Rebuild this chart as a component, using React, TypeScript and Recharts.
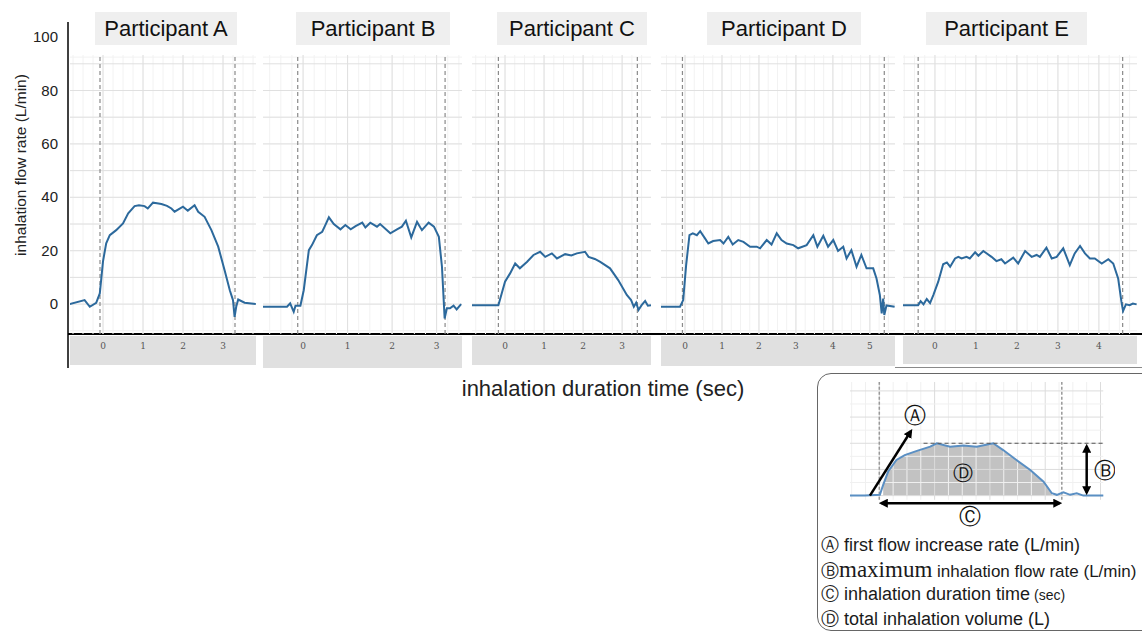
import {
  LineChart,
  ComposedChart,
  Line,
  Area,
  XAxis,
  YAxis,
  CartesianGrid,
  ReferenceLine,
  ReferenceDot,
  Label,
} from 'recharts';

const FONT = '"Liberation Sans", Arial, sans-serif';
const BLUE = '#2c699c';

// y axis (shared, L/min)
const flowTicks = [0, 20, 40, 60, 80, 100];

// Participant A
const timeA = [-0.83, -0.46, -0.33, -0.17, -0.08, 0, 0.08, 0.17, 0.33, 0.5, 0.63, 0.79, 0.9, 1.04, 1.12, 1.25, 1.35, 1.46, 1.6, 1.71, 1.79, 2.0, 2.12, 2.29, 2.38, 2.54, 2.71, 2.88, 3.04, 3.17, 3.25, 3.29, 3.33, 3.38, 3.54, 3.82];
const flowA = [0, 1.5, -1, 0.5, 4, 16, 22.8, 25.8, 27.7, 30.2, 34, 36.7, 37, 36.7, 35.8, 38, 37.8, 37.5, 36.8, 35.8, 34.6, 36.5, 35, 37, 34.6, 32.7, 27.7, 21.5, 12.7, 5.2, 1.5, -4.8, -1, 1.7, 0.5, 0];

// Participant B
const timeB = [-0.9, -0.36, -0.29, -0.21, -0.17, -0.06, 0.015, 0.13, 0.2, 0.31, 0.43, 0.5, 0.58, 0.69, 0.84, 0.95, 1.07, 1.18, 1.33, 1.4, 1.51, 1.66, 1.73, 1.96, 2.11, 2.22, 2.31, 2.43, 2.56, 2.67, 2.82, 2.94, 3.05, 3.12, 3.18, 3.23, 3.3, 3.38, 3.45, 3.55];
const flowB = [-1, -1, 0.3, -2.9, -0.6, -0.6, 5.2, 20.2, 22.1, 25.8, 27.1, 29.6, 32.5, 30, 28, 29.6, 28, 29.2, 30.5, 28.7, 30.5, 29, 30, 26.5, 28, 29, 31.2, 25, 30.8, 27.7, 30.5, 29, 25.2, 14, -5.4, -1.6, -1.6, -0.6, -2, 0];

// Participant C
const timeC = [-0.85, -0.17, -0.085, 0, 0.13, 0.26, 0.38, 0.56, 0.73, 0.9, 1.03, 1.2, 1.33, 1.54, 1.7, 1.84, 2.05, 2.14, 2.3, 2.44, 2.69, 2.9, 3.12, 3.23, 3.3, 3.36, 3.42, 3.5, 3.59, 3.66, 3.74];
const flowC = [-0.4, -0.4, 4, 8.4, 11.5, 15.2, 13.4, 15.8, 18.4, 19.6, 17.7, 19, 17.1, 18.7, 18.2, 19, 19.6, 17.7, 16.9, 15.8, 13.4, 9, 3.4, 1.5, -1, 0.5, -2.2, -0.4, 1.2, -0.6, -0.4];

// Participant D
const timeD = [-0.65, -0.135, -0.05, 0.03, 0.12, 0.21, 0.32, 0.41, 0.54, 0.63, 0.76, 0.95, 1.04, 1.17, 1.29, 1.44, 1.58, 1.76, 1.94, 2.03, 2.21, 2.34, 2.48, 2.61, 2.75, 2.93, 3.06, 3.29, 3.47, 3.58, 3.74, 3.87, 4.01, 4.14, 4.28, 4.37, 4.5, 4.64, 4.77, 4.91, 5.09, 5.18, 5.27, 5.32, 5.36, 5.39, 5.45, 5.67];
const flowD = [-1, -1, 1.5, 14.6, 25.8, 26.5, 25.8, 27.3, 24.6, 22.7, 23.6, 24, 22.7, 25.2, 22.3, 24, 23.3, 21.5, 21.5, 20.9, 24, 22.3, 26.5, 24, 22.7, 22.1, 20.9, 22.1, 25.8, 21.5, 25.6, 21.5, 24, 19.9, 21.5, 17.1, 20.2, 14, 18.4, 13.4, 13.4, 9.6, 3.4, -3.5, 2.1, -4.1, -0.5, -1];

// Participant E
const timeE = [-0.78, -0.41, -0.35, -0.28, -0.2, -0.12, -0.04, 0.08, 0.2, 0.29, 0.37, 0.49, 0.57, 0.65, 0.77, 0.85, 0.98, 1.06, 1.18, 1.38, 1.5, 1.62, 1.71, 1.91, 2.03, 2.2, 2.36, 2.48, 2.56, 2.72, 2.85, 2.97, 3.13, 3.29, 3.41, 3.54, 3.66, 3.78, 3.9, 4.07, 4.23, 4.35, 4.47, 4.55, 4.59, 4.66, 4.75, 4.83, 4.92];
const flowE = [-0.4, -0.4, 1.1, -0.1, 1.9, 0.4, 3.4, 8.4, 14.9, 15.6, 14, 17.1, 17.7, 17.1, 17.7, 17.1, 19.4, 18.1, 19.9, 17.7, 16.1, 16.8, 15.2, 17.4, 15.2, 19.9, 17.7, 18.4, 17.7, 21.1, 17.1, 17.7, 20.9, 14.6, 19, 21.8, 19, 17.1, 17.1, 15.2, 16.8, 15.2, 9.6, 0.9, -2.6, -0.1, -0.4, 0.2, -0.1];

// legend sketch curve
const sketchTime = [-0.53, -0.26, 0.01, 0.07, 0.16, 0.31, 0.46, 0.68, 0.92, 1.04, 1.28, 1.52, 1.76, 2.06, 2.24, 2.48, 2.73, 2.97, 3.12, 3.21, 3.33, 3.45, 3.57, 3.69, 4.05];
const sketchFlow = [0, 0, 0.3, 4.1, 9.2, 13.6, 15.5, 17.1, 18.7, 20, 18.7, 19.1, 18.7, 20, 17.4, 13.6, 9.8, 5.3, 0.9, 0.3, 1.3, 0.3, 0.9, 0, 0];
const sketchFillFrom = 3;
const sketchFillTo = 18;

const legendItems = [
  { mark: 'Ⓐ', text: 'first flow increase rate (L/min)' },
  { mark: 'Ⓑ', text: 'inhalation flow rate (L/min)', serif: 'maximum' },
  { mark: 'Ⓒ', text: 'inhalation duration time', small: '(sec)' },
  { mark: 'Ⓓ', text: 'total inhalation volume (L)' },
];

const PANEL_TOP = 55;
const PANEL_PLOT_H = 279;
const PANEL_Y_DOMAIN: [number, number] = [-11.2, 93.3];

const panels = [
  { name: 'Participant A', time: timeA, flow: flowA, left: 70, right: 256, tMin: -0.825, tMax: 3.825, ticks: [0, 1, 2, 3], dash: [-0.075, 3.3], title: [95, 237], boxBottom: 365 },
  { name: 'Participant B', time: timeB, flow: flowB, left: 263, right: 462, tMin: -0.9, tMax: 3.57, ticks: [0, 1, 2, 3], dash: [-0.12, 3.19], title: [296, 450], boxBottom: 368 },
  { name: 'Participant C', time: timeC, flow: flowC, left: 472, right: 651, tMin: -0.846, tMax: 3.74, ticks: [0, 1, 2, 3], dash: [-0.17, 3.39], title: [497, 647], boxBottom: 365 },
  { name: 'Participant D', time: timeD, flow: flowD, left: 661, right: 895, tMin: -0.65, tMax: 5.68, ticks: [0, 1, 2, 3, 4, 5], dash: [-0.07, 5.39], title: [707, 861], boxBottom: 366 },
  { name: 'Participant E', time: timeE, flow: flowE, left: 903, right: 1137, tMin: -0.78, tMax: 4.93, ticks: [0, 1, 2, 3, 4], dash: [-0.41, 4.58], title: [926, 1087], boxBottom: 364 },
];

function steps(from: number, to: number, step: number) {
  const out: number[] = [];
  for (let v = Math.ceil(from / step) * step; v <= to + 1e-9; v += step) out.push(+v.toFixed(3));
  return out;
}

function Panel({ p }: { p: (typeof panels)[number] }) {
  const rows = p.time.map((t, i) => ({ t, v: p.flow[i] }));
  const width = p.right - p.left;
  return (
    <div style={{ position: 'absolute', left: p.left, top: PANEL_TOP }}>
      <LineChart width={width} height={PANEL_PLOT_H + 34} data={rows} margin={{ top: 0, right: 0, bottom: 0, left: 0 }}>
        <CartesianGrid
          stroke="#f2f2f2"
          horizontalValues={steps(PANEL_Y_DOMAIN[0], PANEL_Y_DOMAIN[1], 2.5)}
          verticalValues={steps(p.tMin, p.tMax, 0.25)}
        />
        <CartesianGrid
          stroke="#e0e0e0"
          horizontalValues={steps(0, 90, 10)}
          verticalValues={steps(p.tMin, p.tMax, 1)}
        />
        <XAxis
          dataKey="t"
          type="number"
          domain={[p.tMin, p.tMax]}
          ticks={p.ticks}
          interval={0}
          allowDataOverflow
          axisLine={false}
          tickLine={false}
          tickSize={0}
          tickMargin={9}
          height={34}
          tick={{ fontSize: 9, fill: '#555', fontFamily: '"DejaVu Serif", serif' }}
        />
        <YAxis hide type="number" domain={PANEL_Y_DOMAIN} allowDataOverflow />
        {p.dash.map((d) => (
          <ReferenceLine key={d} x={d} stroke="#8a8a8a" strokeWidth={1.2} strokeDasharray="4 3" />
        ))}
        <Line
          type="linear"
          dataKey="v"
          stroke={BLUE}
          strokeWidth={2}
          dot={false}
          isAnimationActive={false}
        />
      </LineChart>
    </div>
  );
}

const arrowLine = (start: boolean) => (props: any) => (
  <line
    x1={props.x1}
    y1={props.y1}
    x2={props.x2}
    y2={props.y2}
    stroke="#000"
    strokeWidth={2.5}
    markerEnd="url(#arrowHead)"
    markerStart={start ? 'url(#arrowHead)' : undefined}
  />
);

function LegendSketch() {
  const rows = sketchTime.map((t, i) => ({
    t,
    v: sketchFlow[i],
    fill: i >= sketchFillFrom && i <= sketchFillTo ? sketchFlow[i] : undefined,
  }));
  const gridV = steps(-0.5, 4.0, 0.25);
  const gridH = steps(0, 40, 5);
  const circled = { position: 'center' as const, fill: '#111', fontFamily: '"DejaVu Sans", sans-serif' };
  return (
    <div style={{ position: 'absolute', left: 850, top: 382 }}>
      <ComposedChart width={265} height={150} data={rows} margin={{ top: 0, right: 0, bottom: 0, left: 0 }}>
        <defs>
          <marker id="arrowHead" viewBox="0 0 10 10" refX="7" refY="5" markerWidth="3.6" markerHeight="3.6" orient="auto-start-reverse">
            <path d="M0,0 L10,5 L0,10 z" fill="#000" />
          </marker>
        </defs>
        <XAxis dataKey="t" type="number" domain={[-0.53, 4.262]} hide allowDataOverflow />
        <YAxis type="number" domain={[-13.9, 43.4]} hide allowDataOverflow />
        {gridV.map((g) => (
          <ReferenceLine
            key={'v' + g}
            segment={[{ x: g, y: -1.6 }, { x: g, y: 43.4 }]}
            stroke={Number.isInteger(g) ? '#dcdcdc' : '#f0f0f0'}
          />
        ))}
        {gridH.map((g) => (
          <ReferenceLine
            key={'h' + g}
            segment={[{ x: -0.53, y: g }, { x: 4.05, y: g }]}
            stroke={g % 10 === 0 ? '#dcdcdc' : '#f0f0f0'}
          />
        ))}
        <ReferenceLine segment={[{ x: 0, y: -1.6 }, { x: 0, y: 43.4 }]} stroke="#999" strokeWidth={1.5} strokeDasharray="3 2" />
        <ReferenceLine segment={[{ x: 3.3, y: -1.6 }, { x: 3.3, y: 43.4 }]} stroke="#999" strokeWidth={1.5} strokeDasharray="3 2" />
        <Area
          type="linear"
          dataKey="fill"
          baseValue={0}
          fill="#c2c2c2"
          fillOpacity={1}
          stroke="none"
          isAnimationActive={false}
        />
        <Line type="linear" dataKey="v" stroke="#5a8fc3" strokeWidth={2} dot={false} isAnimationActive={false} />
        <ReferenceLine segment={[{ x: 0.8, y: 20 }, { x: 4.05, y: 20 }]} stroke="#555" strokeDasharray="4 3" />
        <ReferenceLine segment={[{ x: -0.17, y: 0 }, { x: 0.57, y: 24.6 }]} shape={arrowLine(false)} />
        <ReferenceLine segment={[{ x: 3.75, y: 1.2 }, { x: 3.75, y: 18.8 }]} shape={arrowLine(true)} />
        <ReferenceLine segment={[{ x: 0.04, y: -2.9 }, { x: 3.26, y: -2.9 }]} shape={arrowLine(true)} />
        <ReferenceDot x={0.64} y={30.8} r={0} stroke="none" label={{ ...circled, value: 'Ⓐ', fontSize: 22 }} />
        <ReferenceDot x={4.08} y={9.8} r={0} stroke="none" label={{ ...circled, value: 'Ⓑ', fontSize: 22 }} />
        <ReferenceDot x={1.64} y={-8} r={0} stroke="none" label={{ ...circled, value: 'Ⓒ', fontSize: 22 }} />
        <ReferenceDot x={1.52} y={8.5} r={0} stroke="none" label={{ ...circled, value: 'Ⓓ', fontSize: 20 }} />
      </ComposedChart>
    </div>
  );
}

export default function App() {
  return (
    <div
      style={{
        position: 'absolute',
        left: 0,
        top: 0,
        width: 1142,
        height: 633,
        overflow: 'hidden',
        background: '#fff',
        fontFamily: FONT,
        color: '#1a1a1a',
      }}
    >
      {/* grey strips behind the time ticks */}
      {panels.map((p) => (
        <div
          key={p.name + 'strip'}
          style={{
            position: 'absolute',
            left: p.left,
            top: 336,
            width: p.right - p.left,
            height: p.boxBottom - 336,
            background: '#e0e0e0',
          }}
        />
      ))}
      <div style={{ position: 'absolute', left: 895, top: 367, width: 247, height: 0, borderTop: '1.5px solid #8a8a8a' }} />

      {/* participant titles */}
      {panels.map((p) => (
        <div
          key={p.name + 'title'}
          style={{
            position: 'absolute',
            left: p.title[0],
            top: 12,
            width: p.title[1] - p.title[0],
            height: 33,
            background: '#efefef',
            display: 'flex',
            alignItems: 'center',
            justifyContent: 'center',
            fontSize: 22,
            color: '#111',
            whiteSpace: 'nowrap',
          }}
        >
          {p.name}
        </div>
      ))}

      {/* shared y axis and baseline */}
      <div style={{ position: 'absolute', left: 0, top: 0 }}>
        <LineChart width={1142} height={380} data={[{ t: 0 }, { t: 1 }]} margin={{ top: 22, right: 0, bottom: 12, left: 0 }}>
          <XAxis dataKey="t" type="number" domain={[0, 1]} hide />
          <YAxis
            type="number"
            domain={[-24, 105.6]}
            ticks={flowTicks}
            interval={0}
            allowDataOverflow
            width={68}
            axisLine={{ stroke: '#000', strokeWidth: 1.5 }}
            tickLine={false}
            tickSize={0}
            tickMargin={10}
            tick={{ fontSize: 15, fill: '#222', fontFamily: FONT }}
          >
            <Label
              content={() => (
                <text
                  x={20}
                  y={165}
                  transform="rotate(-90 20 165)"
                  textAnchor="middle"
                  dominantBaseline="central"
                  fontSize={15.5}
                  fill="#222"
                  fontFamily={FONT}
                >
                  inhalation flow rate (L/min)
                </text>
              )}
            />
          </YAxis>
          <ReferenceLine y={-11.24} stroke="#000" strokeWidth={2} />
        </LineChart>
      </div>

      {panels.map((p) => (
        <Panel key={p.name} p={p} />
      ))}

      <div
        style={{
          position: 'absolute',
          left: 603 - 200,
          top: 389 - 13,
          width: 400,
          height: 26,
          lineHeight: '26px',
          textAlign: 'center',
          whiteSpace: 'nowrap',
          fontSize: 22,
          color: '#222',
        }}
      >
        inhalation duration time (sec)
      </div>

      {/* explanation box */}
      <div
        style={{
          position: 'absolute',
          left: 817,
          top: 373,
          width: 340,
          height: 258,
          border: '1.5px solid #666',
          borderRadius: 14,
          boxSizing: 'border-box',
        }}
      />
      <LegendSketch />
      {legendItems.map((item, i) => (
        <div
          key={item.mark}
          style={{
            position: 'absolute',
            left: 821,
            top: 545 + i * 24.7 - 12,
            height: 24,
            lineHeight: '24px',
            whiteSpace: 'nowrap',
            fontSize: 18,
            color: '#1a1a1a',
          }}
        >
          <span style={{ fontSize: 18, fontFamily: '"DejaVu Sans", sans-serif' }}>{item.mark}</span>
          {item.serif ? (
            <>
              <span style={{ fontFamily: '"Liberation Serif", serif', fontSize: 23 }}>{item.serif}</span>
              <span style={{ fontSize: 17 }}>{' ' + item.text}</span>
            </>
          ) : (
            <>
              {' ' + item.text}
              {item.small ? <span style={{ fontSize: 14 }}> {item.small}</span> : null}
            </>
          )}
        </div>
      ))}
    </div>
  );
}
